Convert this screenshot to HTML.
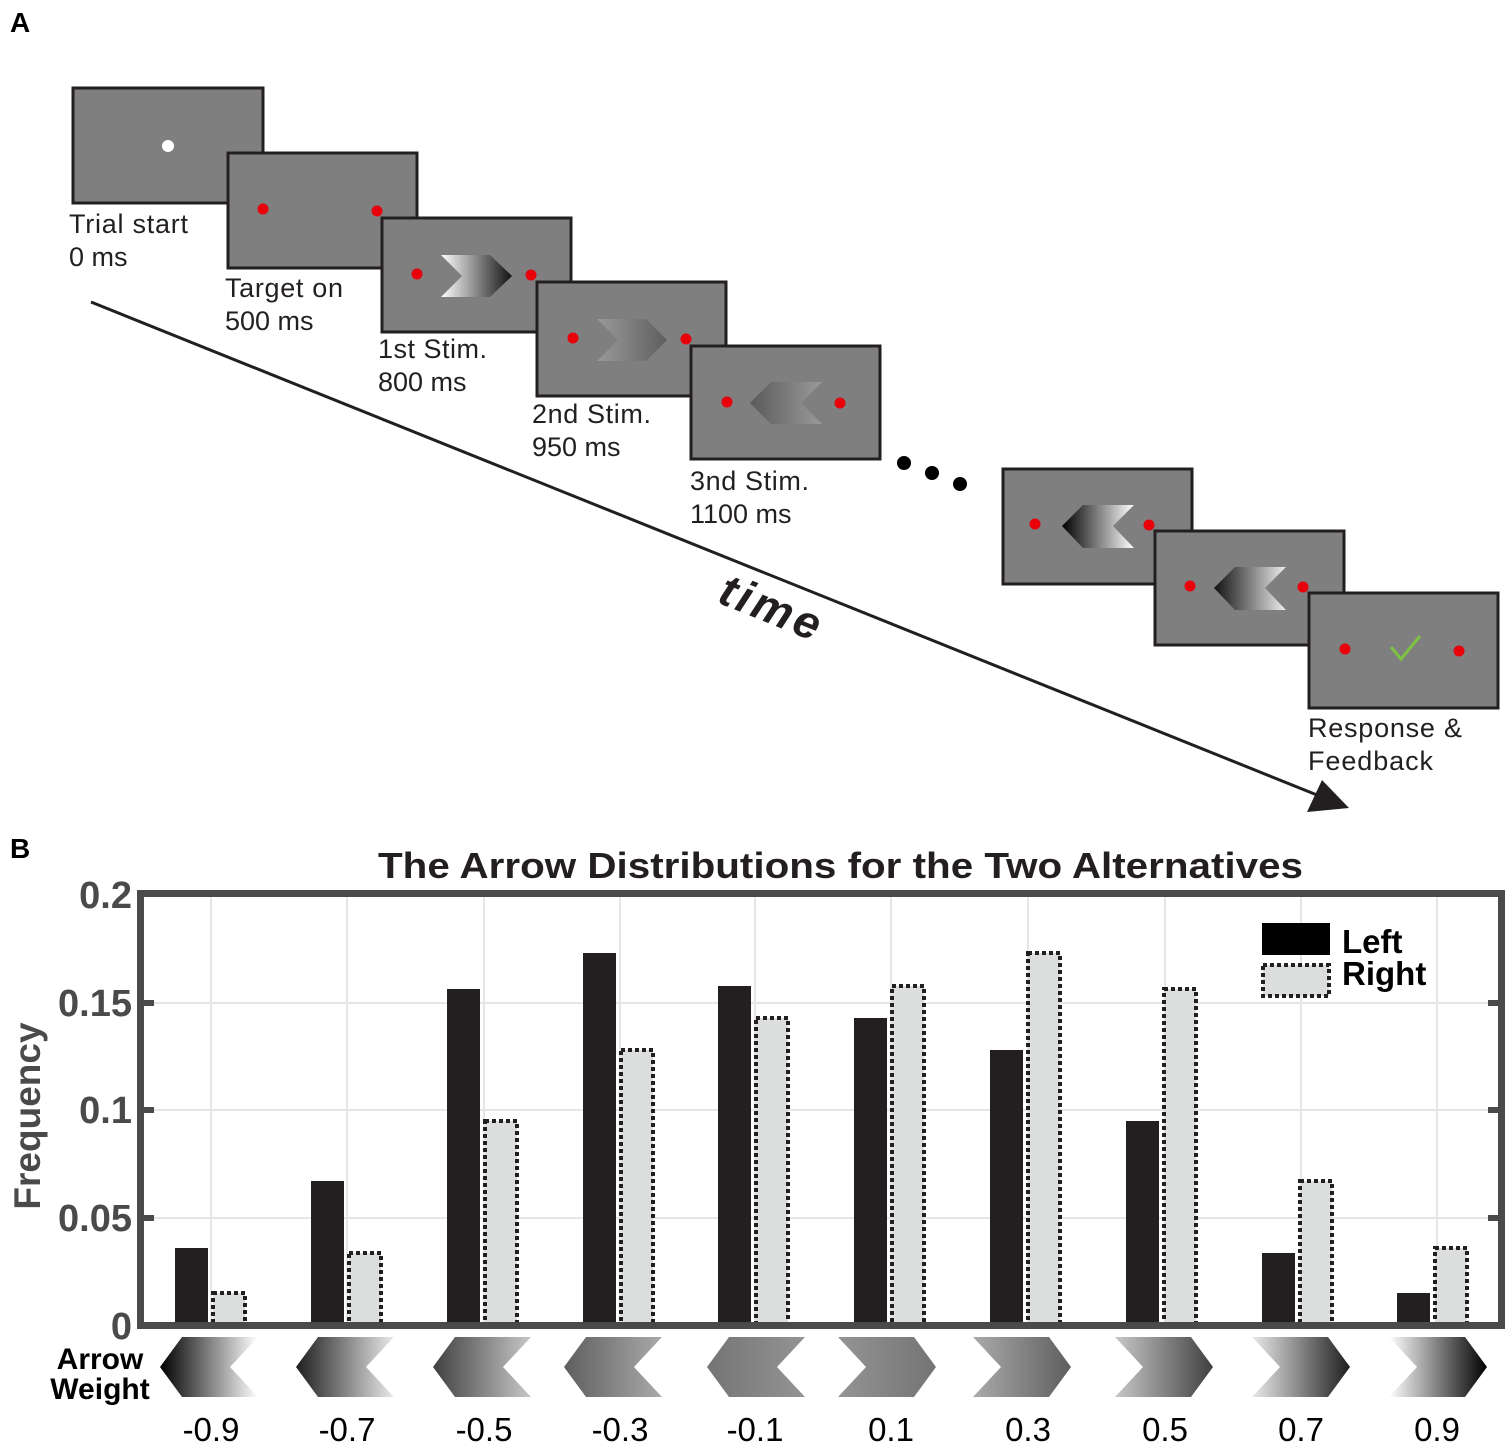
<!DOCTYPE html>
<html><head><meta charset="utf-8"><style>
html,body{margin:0;padding:0;background:#fff;}
svg{display:block;font-family:"Liberation Sans",Arial,sans-serif;}
</style></head><body>
<svg width="1511" height="1445" viewBox="0 0 1511 1445" xmlns="http://www.w3.org/2000/svg">
<defs>
<linearGradient id="gR1" x1="0" x2="1"><stop offset="0" stop-color="#fff"/><stop offset="1" stop-color="#111"/></linearGradient>
<linearGradient id="gR2" x1="0" x2="1"><stop offset="0" stop-color="#9a9a9a"/><stop offset="1" stop-color="#5e5e5e"/></linearGradient>
<linearGradient id="gL1" x1="0" x2="1"><stop offset="0" stop-color="#5a5a5a"/><stop offset="1" stop-color="#9a9a9a"/></linearGradient>
<linearGradient id="gL2" x1="0" x2="1"><stop offset="0" stop-color="#000"/><stop offset="1" stop-color="#fff"/></linearGradient>
<linearGradient id="gL3" x1="0" x2="1"><stop offset="0" stop-color="#111"/><stop offset="1" stop-color="#eee"/></linearGradient>
<linearGradient id="a1" x1="0" x2="1"><stop offset="0" stop-color="#000"/><stop offset="1" stop-color="#fff"/></linearGradient>
<linearGradient id="a2" x1="0" x2="1"><stop offset="0" stop-color="#1e1e1e"/><stop offset="1" stop-color="#eaeaea"/></linearGradient>
<linearGradient id="a3" x1="0" x2="1"><stop offset="0" stop-color="#404040"/><stop offset="1" stop-color="#c8c8c8"/></linearGradient>
<linearGradient id="a4" x1="0" x2="1"><stop offset="0" stop-color="#5e5e5e"/><stop offset="1" stop-color="#aaaaaa"/></linearGradient>
<linearGradient id="a5" x1="0" x2="1"><stop offset="0" stop-color="#747474"/><stop offset="1" stop-color="#949494"/></linearGradient>
<linearGradient id="b5" x1="0" x2="1"><stop offset="0" stop-color="#949494"/><stop offset="1" stop-color="#747474"/></linearGradient>
<linearGradient id="b4" x1="0" x2="1"><stop offset="0" stop-color="#aaaaaa"/><stop offset="1" stop-color="#5e5e5e"/></linearGradient>
<linearGradient id="b3" x1="0" x2="1"><stop offset="0" stop-color="#c8c8c8"/><stop offset="1" stop-color="#404040"/></linearGradient>
<linearGradient id="b2" x1="0" x2="1"><stop offset="0" stop-color="#eaeaea"/><stop offset="1" stop-color="#1e1e1e"/></linearGradient>
<linearGradient id="b1" x1="0" x2="1"><stop offset="0" stop-color="#fff"/><stop offset="1" stop-color="#000"/></linearGradient>
</defs>

<!-- Panel A -->
<text x="10" y="32" font-size="28" font-weight="bold">A</text>
<line x1="91" y1="302" x2="1322" y2="797" stroke="#231f20" stroke-width="3"/>
<polygon points="1349,808 1307,812 1322,780" fill="#231f20"/>
<text x="0" y="0" font-size="46" font-weight="bold" font-style="italic" fill="#231f20" transform="translate(716,602) rotate(22)" textLength="105">time</text>

<g stroke="#231f20" stroke-width="3" fill="#7f7f7f">
<rect x="73" y="88" width="190" height="115"/>
<rect x="228" y="153" width="189" height="115"/>
<rect x="382" y="218" width="189" height="114"/>
<rect x="537" y="282" width="189" height="114"/>
<rect x="691" y="346" width="189" height="113"/>
<rect x="1003" y="469" width="189" height="115"/>
<rect x="1155" y="531" width="189" height="114"/>
<rect x="1309" y="593" width="189" height="115"/>
</g>
<circle cx="168" cy="146" r="6" fill="#fff"/>
<g fill="#e8000b">
<circle cx="263" cy="209" r="5.5"/><circle cx="377" cy="211" r="5.5"/>
<circle cx="417" cy="274" r="5.5"/><circle cx="531" cy="275" r="5.5"/>
<circle cx="573" cy="338" r="5.5"/><circle cx="686" cy="339" r="5.5"/>
<circle cx="727" cy="402" r="5.5"/><circle cx="840" cy="403" r="5.5"/>
<circle cx="1035" cy="524" r="5.5"/><circle cx="1149" cy="525" r="5.5"/>
<circle cx="1190" cy="586" r="5.5"/><circle cx="1303" cy="587" r="5.5"/>
<circle cx="1345" cy="649" r="5.5"/><circle cx="1459" cy="651" r="5.5"/>
</g>
<g fill="#000"><circle cx="904" cy="463" r="7"/><circle cx="932" cy="473" r="7"/><circle cx="960" cy="484" r="7"/></g>
<polygon points="441,255 490,255 512,276 490,297 441,297 462,276" fill="url(#gR1)"/>
<polygon points="597,319 646,319 667,340 646,361 597,361 618,340" fill="url(#gR2)"/>
<polygon points="750,403 771,382 822,382 801,403 822,424 771,424" fill="url(#gL1)"/>
<polygon points="1062,526 1083,505 1134,505 1113,526 1134,548 1083,548" fill="url(#gL2)"/>
<polygon points="1214,588 1235,567 1286,567 1265,588 1286,610 1235,610" fill="url(#gL3)"/>
<polyline points="1391,647 1401,659 1420,636" fill="none" stroke="#7dc242" stroke-width="3"/>

<g font-size="27" fill="#231f20">
<text x="69" y="233" textLength="119">Trial start</text><text x="69" y="266">0 ms</text>
<text x="225" y="297" textLength="118">Target on</text><text x="225" y="330">500 ms</text>
<text x="378" y="358" textLength="109">1st Stim.</text><text x="378" y="391">800 ms</text>
<text x="532" y="423" textLength="119">2nd Stim.</text><text x="532" y="456">950 ms</text>
<text x="690" y="490" textLength="119">3nd Stim.</text><text x="690" y="523">1100 ms</text>
<text x="1308" y="737" textLength="154">Response &amp;</text><text x="1308" y="770" textLength="125">Feedback</text>
</g>

<!-- Panel B -->
<text x="10" y="858" font-size="28" font-weight="bold">B</text>
<text x="378" y="878" font-size="36" font-weight="bold" fill="#231f20" textLength="925" lengthAdjust="spacingAndGlyphs">The Arrow Distributions for the Two Alternatives</text>

<g stroke="#e6e6e6" stroke-width="2">
<line x1="144" y1="1003" x2="1498" y2="1003"/><line x1="144" y1="1110" x2="1498" y2="1110"/><line x1="144" y1="1218" x2="1498" y2="1218"/>
<line x1="211" y1="897" x2="211" y2="1322"/><line x1="347" y1="897" x2="347" y2="1322"/><line x1="484" y1="897" x2="484" y2="1322"/><line x1="620" y1="897" x2="620" y2="1322"/><line x1="755" y1="897" x2="755" y2="1322"/><line x1="891" y1="897" x2="891" y2="1322"/><line x1="1028" y1="897" x2="1028" y2="1322"/><line x1="1165" y1="897" x2="1165" y2="1322"/><line x1="1301" y1="897" x2="1301" y2="1322"/><line x1="1437" y1="897" x2="1437" y2="1322"/>
</g>

<g fill="#231f20">
<rect x="175" y="1248" width="33" height="75"/>
<rect x="311" y="1181" width="33" height="142"/>
<rect x="447" y="989" width="33" height="334"/>
<rect x="583" y="953" width="33" height="370"/>
<rect x="718" y="986" width="33" height="337"/>
<rect x="854" y="1018" width="33" height="305"/>
<rect x="990" y="1050" width="33" height="273"/>
<rect x="1126" y="1121" width="33" height="202"/>
<rect x="1262" y="1253" width="33" height="70"/>
<rect x="1397" y="1293" width="33" height="30"/>
</g>
<g fill="#dcdddd" stroke="#231f20" stroke-width="4" stroke-dasharray="4,3">
<rect x="213" y="1293" width="32" height="32"/>
<rect x="349" y="1253" width="32" height="72"/>
<rect x="485" y="1121" width="32" height="204"/>
<rect x="621" y="1050" width="32" height="275"/>
<rect x="756" y="1018" width="32" height="307"/>
<rect x="892" y="986" width="32" height="339"/>
<rect x="1028" y="953" width="32" height="372"/>
<rect x="1164" y="989" width="32" height="336"/>
<rect x="1300" y="1181" width="32" height="144"/>
<rect x="1435" y="1248" width="32" height="77"/>
</g>

<rect x="140.5" y="893.5" width="1361" height="432" fill="none" stroke="#4a4a4a" stroke-width="7"/>
<g stroke="#4a4a4a" stroke-width="6">
<line x1="144" y1="1003" x2="154" y2="1003"/><line x1="144" y1="1110" x2="154" y2="1110"/><line x1="144" y1="1218" x2="154" y2="1218"/>
<line x1="1488" y1="1003" x2="1498" y2="1003"/><line x1="1488" y1="1110" x2="1498" y2="1110"/><line x1="1488" y1="1218" x2="1498" y2="1218"/>
</g>

<g font-size="38" font-weight="bold" fill="#4a4a4a" text-anchor="end">
<text x="132" y="908">0.2</text><text x="132" y="1016">0.15</text><text x="132" y="1123">0.1</text><text x="132" y="1231">0.05</text><text x="132" y="1339">0</text>
</g>
<text transform="translate(40,1116) rotate(-90)" font-size="37" font-weight="bold" fill="#4a4a4a" text-anchor="middle">Frequency</text>

<rect x="1262" y="923" width="68" height="32" fill="#000"/>
<rect x="1263" y="965" width="66" height="31" fill="#dcdddd" stroke="#231f20" stroke-width="4" stroke-dasharray="4,3"/>
<text x="1342" y="953" font-size="33" font-weight="bold">Left</text>
<text x="1342" y="985" font-size="33" font-weight="bold">Right</text>

<text x="100" y="1369" font-size="30" font-weight="bold" text-anchor="middle">Arrow</text>
<text x="100" y="1399" font-size="30" font-weight="bold" text-anchor="middle">Weight</text>

<g>
<polygon points="160,1367 182,1337 258,1337 230,1367 258,1397 182,1397" fill="url(#a1)"/>
<polygon points="296,1367 318,1337 394,1337 366,1367 394,1397 318,1397" fill="url(#a2)"/>
<polygon points="433,1367 455,1337 531,1337 503,1367 531,1397 455,1397" fill="url(#a3)"/>
<polygon points="564,1367 586,1337 662,1337 634,1367 662,1397 586,1397" fill="url(#a4)"/>
<polygon points="707,1367 729,1337 805,1337 777,1367 805,1397 729,1397" fill="url(#a5)"/>
<polygon points="838,1337 914,1337 936,1367 914,1397 838,1397 866,1367" fill="url(#b5)"/>
<polygon points="973,1337 1049,1337 1071,1367 1049,1397 973,1397 1001,1367" fill="url(#b4)"/>
<polygon points="1115,1337 1191,1337 1213,1367 1191,1397 1115,1397 1143,1367" fill="url(#b3)"/>
<polygon points="1252,1337 1328,1337 1350,1367 1328,1397 1252,1397 1280,1367" fill="url(#b2)"/>
<polygon points="1389,1337 1465,1337 1487,1367 1465,1397 1389,1397 1417,1367" fill="url(#b1)"/>
</g>

<g font-size="33" text-anchor="middle" fill="#000">
<text x="211" y="1441">-0.9</text><text x="347" y="1441">-0.7</text><text x="484" y="1441">-0.5</text><text x="620" y="1441">-0.3</text><text x="755" y="1441">-0.1</text>
<text x="891" y="1441">0.1</text><text x="1028" y="1441">0.3</text><text x="1165" y="1441">0.5</text><text x="1301" y="1441">0.7</text><text x="1437" y="1441">0.9</text>
</g>
</svg>
</body></html>
